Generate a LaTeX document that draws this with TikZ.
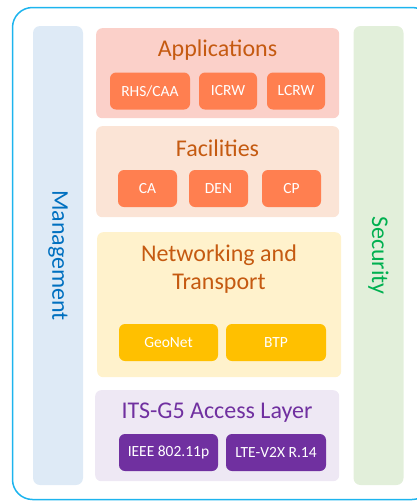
\documentclass[tikz,border=0pt]{standalone}
\usepackage{fontspec}
\setmainfont{Carlito}
\usetikzlibrary{positioning}

\definecolor{framecyan}{HTML}{1DB4EE}
\definecolor{mgmtbg}{HTML}{DEEAF6}
\definecolor{mgmttext}{HTML}{0070C0}
\definecolor{secbg}{HTML}{E2EFDA}
\definecolor{sectext}{HTML}{00B050}
\definecolor{appbg}{HTML}{FBD0C9}
\definecolor{facbg}{HTML}{FBE4D6}
\definecolor{netbg}{HTML}{FFF2CC}
\definecolor{accbg}{HTML}{EEE8F4}
\definecolor{orangeunit}{HTML}{FF7F50}
\definecolor{yellowunit}{HTML}{FFC000}
\definecolor{purpleunit}{HTML}{7030A0}
\definecolor{titlebrown}{HTML}{C55A11}

\begin{document}
\begin{tikzpicture}[x=1pt, y=-1pt,
    column/.style={fill=#1, rounded corners=7pt, rotate=-90, minimum width=459pt, minimum height=50pt, inner sep=0pt, font=\fontsize{24}{28}\selectfont},
    layer/.style={fill=#1, rounded corners=6pt, anchor=north west, inner sep=0pt},
    title/.style={font=\fontsize{24}{28}\selectfont, text=titlebrown, align=center},
    unitbox/.style={fill=#1, rounded corners=6pt, text=white, inner sep=0pt, minimum height=37pt, font=\fontsize{15.5}{18}\selectfont}]
    \useasboundingbox (0,0) rectangle (417,501);

    % Outer frame
    \draw[framecyan, line width=1.5pt, rounded corners=20pt] (12.5,7.5) rectangle (432,499.5);

    % Side columns
    \node[column=mgmtbg, text=mgmttext] (mgmt) at (58,255.5) {Management};
    \node[column=secbg, text=sectext] (sec) at (378.5,255.5) {Security};

    % Applications
    \node[layer=appbg, minimum width=243pt, minimum height=90pt] (app) at (96,28) {};
    \node[title] (apptitle) at (217.5,50) {Applications};
    \node[unitbox=orangeunit, minimum width=80pt] (rhs) at (150,91) {RHS/CAA};
    \node[unitbox=orangeunit, minimum width=58pt] (icrw) at (228,91) {ICRW};
    \node[unitbox=orangeunit, minimum width=58pt] (lcrw) at (296,91) {LCRW};

    % Facilities
    \node[layer=facbg, minimum width=243pt, minimum height=91pt] (fac) at (96,126) {};
    \node[title] (factitle) at (217.5,148) {Facilities};
    \node[unitbox=orangeunit, minimum width=59pt] (ca) at (147.5,188.5) {CA};
    \node[unitbox=orangeunit, minimum width=59pt] (den) at (218.5,188.5) {DEN};
    \node[unitbox=orangeunit, minimum width=59pt] (cp) at (291.5,188.5) {CP};

    % Networking and Transport
    \node[layer=netbg, minimum width=244pt, minimum height=145pt] (net) at (97,232) {};
    \node[title] (nettitle) at (219,269) {Networking and\\Transport};
    \node[unitbox=yellowunit, minimum width=99pt] (geonet) at (168.5,342.5) {GeoNet};
    \node[unitbox=yellowunit, minimum width=100pt] (btp) at (276,342.5) {BTP};

    % Access layer
    \node[layer=accbg, minimum width=244pt, minimum height=91pt] (acc) at (95,390) {};
    \node[title, text=purpleunit] (acctitle) at (217,413) {ITS-G5 Access Layer};
    \node[unitbox=purpleunit, minimum width=99pt] (ieee) at (168.5,452.5) {IEEE 802.11p};
    \node[unitbox=purpleunit, minimum width=100pt] (lte) at (276,452.5) {LTE-V2X R.14};
\end{tikzpicture}
\end{document}
